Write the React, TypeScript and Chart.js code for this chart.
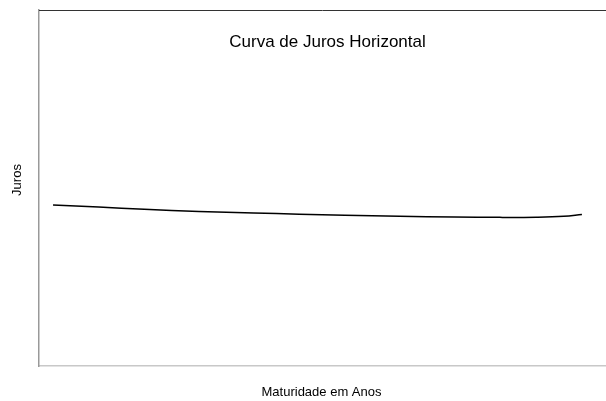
import React, { useEffect, useRef } from "react";
import { Chart, registerables } from "chart.js";

Chart.register(...registerables);

const maturities = [1, 3.5, 6, 9, 12, 14.5, 17, 20, 23, 25.5, 27.5, 29, 30];
const juros = [9.05, 8.93, 8.8, 8.68, 8.6, 8.53, 8.47, 8.41, 8.37, 8.35, 8.36, 8.41, 8.51];
const chartTitle = "Curva de Juros Horizontal";
const xTitle = "Maturidade em Anos";
const yTitle = "Juros";

const textPlugin = {
  id: "texts",
  afterDraw(chart: any) {
    const { ctx, chartArea } = chart;
    ctx.save();
    ctx.strokeStyle = "#333333";
    ctx.lineWidth = 1;
    ctx.beginPath();
    ctx.moveTo(chartArea.left, chartArea.top + 0.5);
    ctx.lineTo(chartArea.right, chartArea.top + 0.5);
    ctx.stroke();
    ctx.fillStyle = "#000";
    ctx.textAlign = "center";
    ctx.textBaseline = "middle";
    ctx.font = "17px 'Liberation Sans', Arial, sans-serif";
    ctx.fillText(chartTitle, (chartArea.left + chartArea.right) / 2 + 5, chartArea.top + 32);
    ctx.font = "13px 'Liberation Sans', Arial, sans-serif";
    ctx.fillText(xTitle, (chartArea.left + chartArea.right) / 2 - 1, chartArea.bottom + 26);
    ctx.translate(17, (chartArea.top + chartArea.bottom) / 2 - 8);
    ctx.rotate(-Math.PI / 2);
    ctx.fillText(yTitle, 0, 0);
    ctx.restore();
  },
};

export default function App() {
  const ref = useRef<HTMLCanvasElement>(null);
  useEffect(() => {
    document.body.style.margin = "0";
    const chart = new Chart(ref.current!, {
      type: "line",
      data: {
        datasets: [
          {
            data: maturities.map((m, i) => ({ x: m, y: juros[i] })),
            borderColor: "#000000",
            borderWidth: 1.5,
            pointRadius: 0,
            tension: 0.4,
            fill: false,
          },
        ],
      },
      options: {
        animation: false,
        responsive: false,
        layout: { padding: { left: 39, top: 10, right: 0, bottom: 35 } },
        plugins: { legend: { display: false }, tooltip: { enabled: false }, title: { display: false } },
        scales: {
          x: {
            type: "linear",
            min: 0.23,
            max: 31.32,
            grid: { display: false },
            ticks: { display: false },
            border: { display: true, color: "#c8c8c8", width: 1.5 },
            afterFit(scale: any) {
              scale.height = 0;
            },
          },
          y: {
            min: 0,
            max: 20,
            grid: { display: false },
            ticks: { display: false },
            border: { display: true, color: "#999999", width: 1.5 },
            afterFit(scale: any) {
              scale.width = 0;
            },
          },
        },
      },
      plugins: [textPlugin],
    });
    return () => chart.destroy();
  }, []);
  return <canvas ref={ref} width={606} height={401} style={{ display: "block" }} />;
}
